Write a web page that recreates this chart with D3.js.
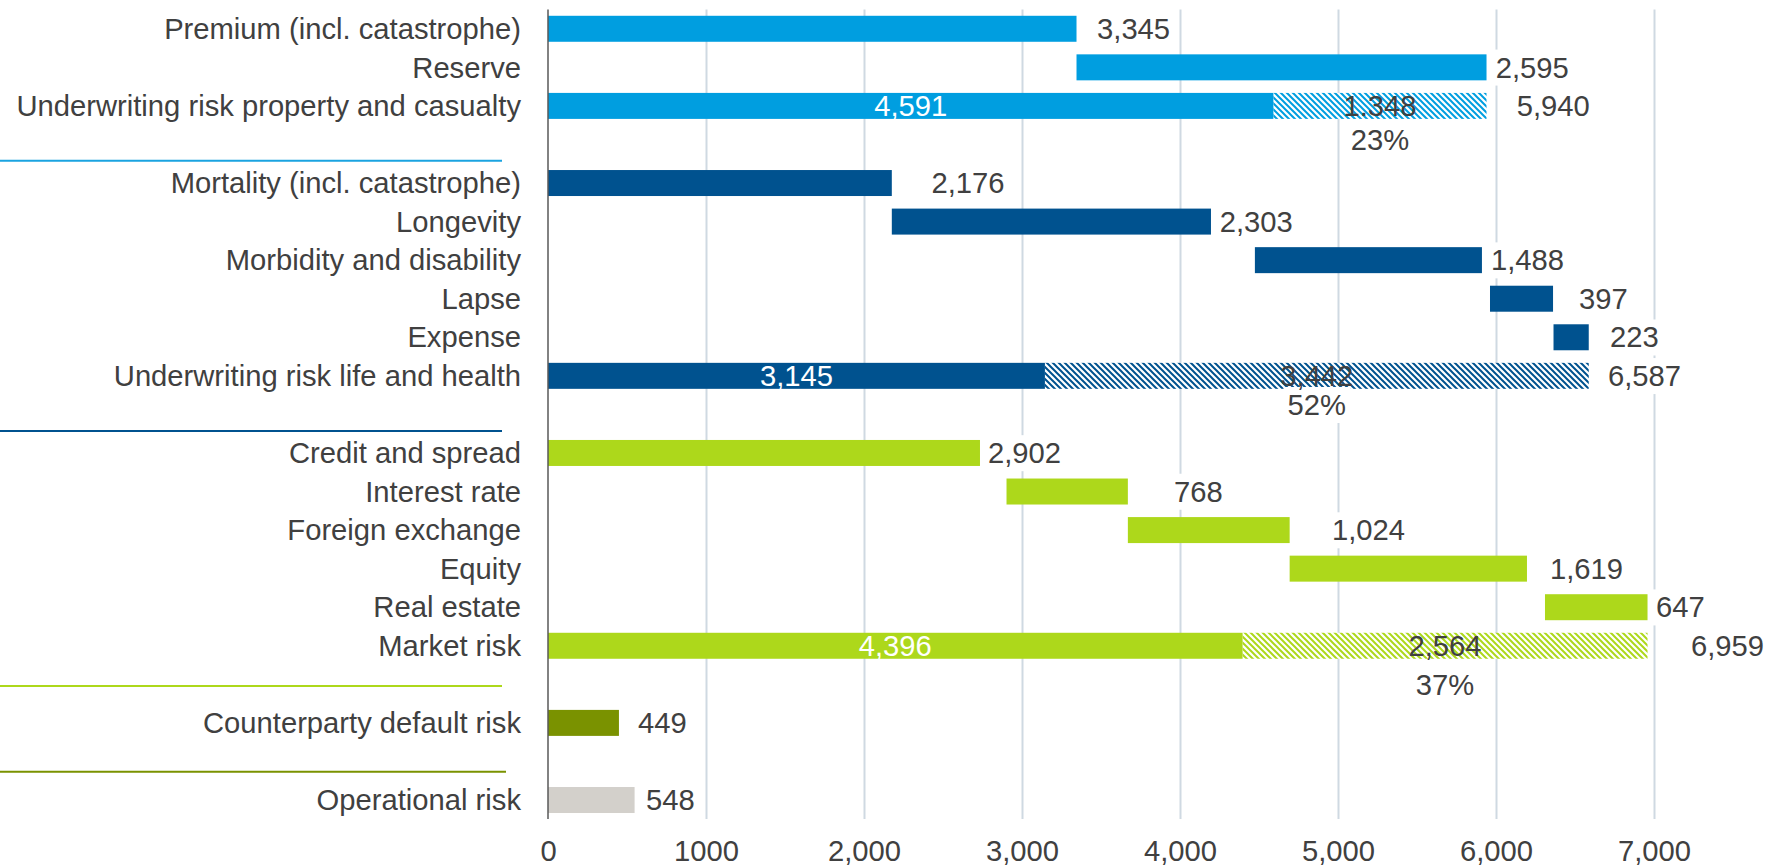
<!DOCTYPE html>
<html>
<head>
<meta charset="utf-8">
<script src="https://cdn.jsdelivr.net/npm/d3@7"></script>
<style>
  html, body { margin: 0; padding: 0; background: #ffffff; }
  svg { display: block; }
  text { font-family: "Liberation Sans", Arial, sans-serif; }
</style>
</head>
<body>
<svg id="chart" width="1768" height="867"></svg>
<script>
// ---------- data ----------
const categories = [
  "Premium (incl. catastrophe)", "Reserve", "Underwriting risk property and casualty", "",
  "Mortality (incl. catastrophe)", "Longevity", "Morbidity and disability", "Lapse", "Expense",
  "Underwriting risk life and health", "",
  "Credit and spread", "Interest rate", "Foreign exchange", "Equity", "Real estate", "Market risk", "",
  "Counterparty default risk", "", "Operational risk"
];
const groups = [
  "pc", "pc", "pc", null,
  "lh", "lh", "lh", "lh", "lh", "lh", null,
  "mk", "mk", "mk", "mk", "mk", "mk", null,
  "cp", null, "op"
];
// bar extents as drawn in the reference
const barStart = [0, 3345, 0, null, 0, 2176, 4474, 5962, 6364, 0, null, 0, 2902, 3670, 4694, 6310, 0, null, 0, null, 0];
const barEnd   = [3345, 5940, 4591, null, 2176, 4196, 5911, 6361, 6587, 3145, null, 2734, 3670, 4694, 6196, 6959, 4396, null, 449, null, 548];
// diversified part of the totals (hatched)
const hatchEnd = [null, null, 5940, null, null, null, null, null, null, 6587, null, null, null, null, null, null, 6959, null, null, null, null];
// data labels
const valueLabels = ["3,345", "2,595", "5,940", null, "2,176", "2,303", "1,488", "397", "223", "6,587", null,
                     "2,902", "768", "1,024", "1,619", "647", "6,959", null, "449", null, "548"];
const labelAt = [3475, 5998, 6131, null, 2427, 4251, 5968, 6525, 6722, 6709, null,
                 2785, 3962, 4962, 6342, 7013, 7234, null, 570, null, 620];
const solidLabels = [null, null, "4,591", null, null, null, null, null, null, "3,145", null,
                     null, null, null, null, null, "4,396", null, null, null, null];
const hatchLabels = [null, null, "1.348", null, null, null, null, null, null, "3,442", null,
                     null, null, null, null, null, "2,564", null, null, null, null];
const pctLabels = [null, null, "23%", null, null, null, null, null, null, "52%", null,
                   null, null, null, null, null, "37%", null, null, null, null];
// group separators (position in row units) and their groups
const separatorRows = [3.42, 10.43, 17.04, 19.27];
const separatorGroups = ["pc", "lh", "mk", "cp"];
const tickValues = [0, 1000, 2000, 3000, 4000, 5000, 6000, 7000];
const tickLabels = ["0", "1000", "2,000", "3,000", "4,000", "5,000", "6,000", "7,000"];

// ---------- styles ----------
const colors = { pc: "#009ee0", lh: "#00528f", mk: "#add81b", cp: "#7a9200", op: "#d3d0cb" };
const sepColors = { pc: "#1aa3e0", lh: "#00528f", mk: "#add81b", cp: "#7a9200" };
const textColor = "#404040";
const fontSize = 29.2;

const svg = d3.select("#chart");
const x = d3.scaleLinear().domain([0, 7000]).range([548, 1654]);
const y = d3.scaleBand().domain(d3.range(categories.length))
  .range([9.5, 819.3]).paddingInner(0.326).paddingOuter(0.163);
const rowC = i => y(i) + y.bandwidth() / 2;
const rowPos = r => y(0) + y.bandwidth() / 2 + r * y.step();

// hatch patterns
const defs = svg.append("defs");
["pc", "lh", "mk"].forEach(g => {
  const p = defs.append("pattern").attr("id", "hatch-" + g)
    .attr("patternUnits", "userSpaceOnUse").attr("width", 6).attr("height", 6);
  p.append("rect").attr("width", 6).attr("height", 6).attr("fill", "#ffffff");
  p.append("path").attr("d", "M-1,-1 L7,7 M-1,5 L1,7 M5,-1 L7,1")
    .attr("stroke", colors[g]).attr("stroke-width", 2);
});

// gridlines
const gridAxis = d3.axisBottom(x).tickValues(tickValues.slice(1))
  .tickSize(-(819 - 9.5)).tickFormat("");
const grid = svg.append("g").attr("transform", "translate(0,819)").call(gridAxis);
grid.select(".domain").remove();
grid.selectAll("line").attr("stroke", "#cfd9e2").attr("stroke-width", 2);

// tick labels
const labAxis = d3.axisBottom(x).tickValues(tickValues).tickSize(0)
  .tickFormat((d, i) => tickLabels[i]);
const la = svg.append("g").attr("transform", "translate(0,819)").call(labAxis);
la.select(".domain").remove();
la.selectAll("text").attr("y", 32).attr("dy", "0.35em")
  .attr("fill", textColor).style("font-size", fontSize + "px")
  .style("font-family", "'Liberation Sans', Arial, sans-serif");

const idx = d3.range(categories.length);

// separators
svg.append("g").selectAll("line").data(separatorRows).join("line")
  .attr("x1", 0).attr("x2", (d, i) => i === 3 ? 506 : 502)
  .attr("y1", d => rowPos(d)).attr("y2", d => rowPos(d))
  .attr("stroke", (d, i) => sepColors[separatorGroups[i]]).attr("stroke-width", 2);

// category labels
svg.append("g").selectAll("text").data(idx.filter(i => categories[i])).join("text")
  .attr("x", 521).attr("y", i => rowC(i)).attr("dy", "0.35em")
  .attr("text-anchor", "end").attr("fill", textColor)
  .style("font-size", fontSize + "px").text(i => categories[i]);

// hatched parts
svg.append("g").selectAll("rect").data(idx.filter(i => hatchEnd[i] != null)).join("rect")
  .attr("x", i => x(barEnd[i])).attr("y", i => y(i))
  .attr("width", i => x(hatchEnd[i]) - x(barEnd[i])).attr("height", y.bandwidth())
  .attr("fill", i => "url(#hatch-" + groups[i] + ")");

// solid bars
svg.append("g").selectAll("rect").data(idx.filter(i => barStart[i] != null)).join("rect")
  .attr("x", i => x(barStart[i])).attr("y", i => y(i))
  .attr("width", i => x(barEnd[i]) - x(barStart[i])).attr("height", y.bandwidth())
  .attr("fill", i => colors[groups[i]]);

// axis line
svg.append("line").attr("x1", 548).attr("x2", 548).attr("y1", 9.5).attr("y2", 819)
  .attr("stroke", "#595959").attr("stroke-width", 1.5);

// helper for labels with white box
function boxedText(g, tx, ty, txt, anchor) {
  const t = g.append("text").attr("x", tx).attr("y", ty).attr("dy", "0.35em")
    .attr("text-anchor", anchor).attr("fill", textColor)
    .style("font-size", fontSize + "px").text(txt);
  const bb = t.node().getBBox();
  g.insert("rect", () => t.node())
    .attr("x", bb.x - 4).attr("y", bb.y - 2).attr("width", bb.width + 8).attr("height", bb.height + 4)
    .attr("fill", "#ffffff");
}
const labG = svg.append("g");
idx.filter(i => valueLabels[i]).forEach(i => {
  boxedText(labG.append("g"), x(labelAt[i]), rowC(i), valueLabels[i], "start");
});
// percentage labels below totals
const pctShift = { pc: 0.88, lh: 0.75, mk: 1.02 };
idx.filter(i => pctLabels[i]).forEach(i => {
  const cx = (x(barEnd[i]) + x(hatchEnd[i])) / 2;
  boxedText(labG.append("g"), cx, rowPos(i + pctShift[groups[i]]), pctLabels[i], "middle");
});
// inside labels
svg.append("g").selectAll("text").data(idx.filter(i => solidLabels[i])).join("text")
  .attr("x", i => (x(barStart[i]) + x(barEnd[i])) / 2).attr("y", i => rowC(i)).attr("dy", "0.35em")
  .attr("text-anchor", "middle").attr("fill", "#ffffff")
  .style("font-size", fontSize + "px").text(i => solidLabels[i]);
svg.append("g").selectAll("text").data(idx.filter(i => hatchLabels[i])).join("text")
  .attr("x", i => (x(barEnd[i]) + x(hatchEnd[i])) / 2).attr("y", i => rowC(i)).attr("dy", "0.35em")
  .attr("text-anchor", "middle").attr("fill", textColor)
  .style("font-size", fontSize + "px").text(i => hatchLabels[i]);
</script>
</body>
</html>
